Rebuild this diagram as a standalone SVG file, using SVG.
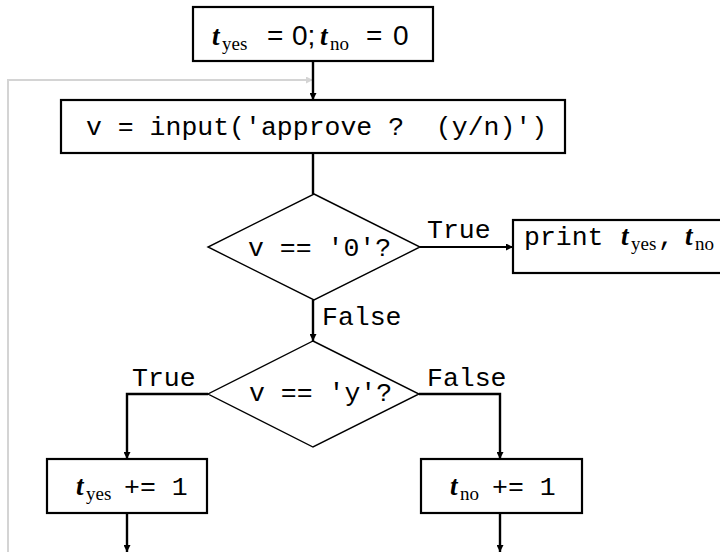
<svg xmlns="http://www.w3.org/2000/svg" width="720" height="552" viewBox="0 0 720 552">
<defs>
<marker id="ah" viewBox="0 0 10 10" refX="10" refY="5" markerWidth="9" markerHeight="7" markerUnits="userSpaceOnUse" orient="auto"><path d="M0,0 L10,5 L0,10 z" fill="#000"/></marker>
<marker id="ahg" viewBox="0 0 10 10" refX="10" refY="5" markerWidth="9" markerHeight="7" markerUnits="userSpaceOnUse" orient="auto"><path d="M0,0 L10,5 L0,10 z" fill="#d4d4d4"/></marker>
<style>
.box{fill:#fff;stroke:#000;stroke-width:2.2}
.dia{fill:#fff;stroke:#000;stroke-width:1.4}
.edge{fill:none;stroke:#000;stroke-width:2.4}
.thin{fill:none;stroke:#000;stroke-width:1.8}
.loop{fill:none;stroke:#d4d4d4;stroke-width:2}
.mono{font-family:"Liberation Mono","DejaVu Sans Mono",monospace;font-size:26.5px;fill:#000}
.mt{font-family:"Liberation Serif","DejaVu Serif",serif;font-style:italic;font-weight:bold;font-size:27px;fill:#000}
.sub{font-family:"Liberation Serif","DejaVu Serif",serif;font-size:19px;fill:#000}
.sans{font-family:"Liberation Sans",Arial,sans-serif;font-size:28px;fill:#000}
</style>
</defs>
<g id="connectors">
<polyline class="loop" points="8,552 8,80 313,80" marker-end="url(#ahg)"/>
<line class="edge" x1="313" y1="61" x2="313" y2="100" marker-end="url(#ah)"/>
<line class="edge" x1="313" y1="153" x2="313" y2="194"/>
<line class="thin" x1="420" y1="247" x2="513" y2="247" marker-end="url(#ah)"/>
<line class="edge" x1="313" y1="300" x2="313" y2="341" marker-end="url(#ah)"/>
<polyline class="edge" points="208,394 127,394 127,459" marker-end="url(#ah)"/>
<polyline class="edge" points="419,394 500,394 500,459" marker-end="url(#ah)"/>
<line class="edge" x1="127" y1="513" x2="127" y2="552" marker-end="url(#ah)"/>
<line class="edge" x1="500" y1="513" x2="500" y2="552" marker-end="url(#ah)"/>
<text class="mono" x="427" y="238">True</text>
<text class="mono" x="322" y="325">False</text>
<text class="mono" x="132" y="386">True</text>
<text class="mono" x="427" y="386">False</text>
</g>
<g id="init">
<rect class="box" x="193" y="7" width="240" height="54"/>
<text class="mt" x="212" y="45">t</text>
<text class="sub" x="222" y="50">yes</text>
<text class="sans" x="267" y="45">=</text>
<text class="sans" x="292" y="45">0;</text>
<text class="mt" x="320" y="45">t</text>
<text class="sub" x="330" y="50">no</text>
<text class="sans" x="366" y="45">=</text>
<text class="sans" x="393" y="45">0</text>
</g>
<g id="input">
<rect class="box" x="61" y="100" width="504" height="53"/>
<text class="mono" x="86" y="135" xml:space="preserve">v = input('approve ?  (y/n)')</text>
</g>
<g id="check0">
<polygon class="dia" points="314,194 420,247 314,300 208,247"/>
<text class="mono" x="248" y="256">v == '0'?</text>
</g>
<g id="print">
<rect class="box" x="513" y="220" width="220" height="53"/>
<text class="mono" x="524" y="245">print</text>
<text class="mt" x="621" y="245">t</text>
<text class="sub" x="631" y="250">yes</text>
<text class="mono" x="658" y="245">,</text>
<text class="mt" x="685" y="245">t</text>
<text class="sub" x="695" y="250">no</text>
</g>
<g id="checky">
<polygon class="dia" points="313,341 419,394 313,447 208,394"/>
<text class="mono" x="249" y="401">v == 'y'?</text>
</g>
<g id="incyes">
<rect class="box" x="47" y="459" width="160" height="54"/>
<text class="mt" x="76" y="495">t</text>
<text class="sub" x="86" y="500">yes</text>
<text class="mono" x="124" y="495">+= 1</text>
</g>
<g id="incno">
<rect class="box" x="421" y="459" width="161" height="54"/>
<text class="mt" x="450" y="495">t</text>
<text class="sub" x="460" y="500">no</text>
<text class="mono" x="492" y="495">+= 1</text>
</g>
</svg>
